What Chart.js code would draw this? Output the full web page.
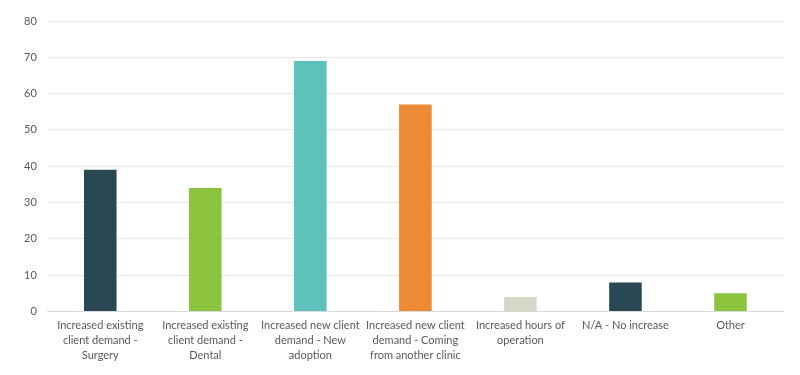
<!DOCTYPE html>
<html lang="en">
<head>
    <meta charset="UTF-8">
    <title>Reasons for increase</title>
    <script src="https://cdn.jsdelivr.net/npm/chart.js"></script>
    <style>
        html, body { margin: 0; padding: 0; background: #fff; }
        .chart-container { width: 800px; height: 375px; position: relative; }
    </style>
</head>
<body>
    <div class="chart-container">
        <canvas id="increaseChart"></canvas>
    </div>

    <script>
        // categories (wrapped into lines like the original)
        const categories = [
            ['Increased existing', 'client demand -', 'Surgery'],
            ['Increased existing', 'client demand -', 'Dental'],
            ['Increased new client', 'demand - New', 'adoption'],
            ['Increased new client', 'demand - Coming', 'from another clinic'],
            ['Increased hours of', 'operation'],
            ['N/A - No increase'],
            ['Other']
        ];
        const values = [39, 34, 69, 57, 4, 8, 5];
        const barColors = ['#2a4853', '#8cc43f', '#5fc1bb', '#ed8a35', '#d6d8c7', '#2a4853', '#8cc43f'];

        const ctx = document.getElementById('increaseChart').getContext('2d');
        new Chart(ctx, {
            type: 'bar',
            data: {
                labels: categories,
                datasets: [
                    {
                        label: 'Responses',
                        data: values,
                        backgroundColor: barColors,
                        categoryPercentage: 1.0,
                        barPercentage: 0.31
                    }
                ]
            },
            options: {
                responsive: true,
                maintainAspectRatio: false,
                animation: false,
                layout: {
                    padding: { top: 21, right: 17, bottom: 5, left: 13 }
                },
                plugins: {
                    legend: { display: false },
                    tooltip: { enabled: false }
                },
                scales: {
                    x: {
                        grid: { display: false, drawTicks: false },
                        border: { color: '#d9d9d9' },
                        ticks: {
                            color: '#595959',
                            font: { family: 'Lato', size: 11, lineHeight: 1.35 },
                            maxRotation: 0,
                            autoSkip: false,
                            padding: 7
                        }
                    },
                    y: {
                        min: 0,
                        max: 80,
                        grid: { color: '#e6e6e6', drawTicks: false },
                        border: { display: false },
                        ticks: {
                            stepSize: 10,
                            color: '#595959',
                            font: { family: 'Lato', size: 11 },
                            padding: 11
                        }
                    }
                }
            }
        });
    </script>
</body>
</html>
